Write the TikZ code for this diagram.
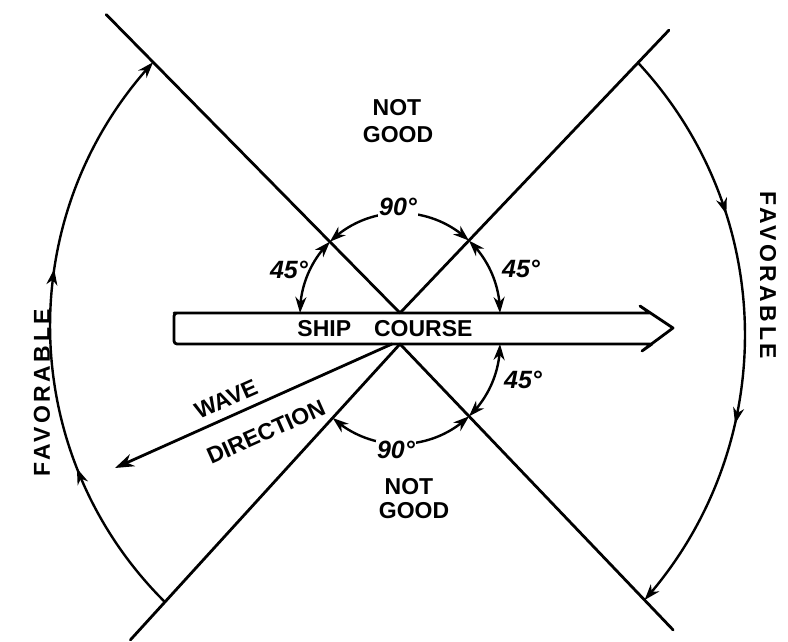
\documentclass[tikz,border=0pt]{standalone}
\usepackage{fontspec}
\setmainfont{Liberation Sans}
\newfontfamily\spacedfont[LetterSpace=15]{Liberation Sans}
\usetikzlibrary{arrows.meta,decorations.markings,bending,calc}
\begin{document}
\begin{tikzpicture}[x=1pt,y=1pt,line join=round,line cap=round,
  >={Stealth[length=16pt,width=11pt,inset=5pt]},
  ln/.style={line width=2.8pt},
  arcline/.style={line width=2.4pt},
  txt/.style={font=\fontsize{23}{26}\selectfont\bfseries,inner sep=0pt},
  degtxt/.style={font=\fontsize{25}{28}\selectfont\bfseries\itshape,inner sep=1pt},
  favtxt/.style={font=\fontsize{23}{26}\selectfont\spacedfont\bfseries,inner sep=1pt},
  midarrows/.style 2 args={postaction={decorate},decoration={markings,
     mark=at position #1 with {\arrow{>}},mark=at position #2 with {\arrow{>}}}}]
\useasboundingbox (0,0) rectangle (788,641);
% key points
\coordinate (V1) at (400,328);
\coordinate (V2) at (400,297);
\coordinate (CL) at (439,315);
\coordinate (CR) at (345,306);
\coordinate (ALt) at ($(CL)+(137.3:389)$);
\coordinate (ALb) at ($(CL)+(225.2:389)$);
\coordinate (ARt) at ($(CR)+(42.9:400)$);
\coordinate (ARb) at ($(CR)+(-41.5:400)$);
\coordinate (ULe) at ($(V1)!1.19!(ALt)$);
\coordinate (URe) at ($(V1)!1.13!(ARt)$);
\coordinate (LLe) at ($(V2)!1.147!(ALb)$);
\coordinate (LRe) at ($(V2)!1.117!(ARb)$);
% the X lines
\draw[ln] (V1) -- (ULe);
\draw[ln] (V1) -- (URe);
\draw[ln] (V2) -- (LLe);
\draw[ln] (V2) -- (LRe);
% ship course arrow
\draw[ln] (177,328) -- (650,328) -- (640,335) -- (673,313) -- (642,290) -- (652,297)
  -- (177,297) [rounded corners=3pt] -- (174,297) -- (174,328) -- cycle;
\node[txt] (ship) at (385,312) {SHIP\hspace{1em}COURSE};
% inner arcs
\draw[arcline,<->] ($(V1)+(180:100)$) arc[start angle=180,end angle=134.5,radius=100];
\draw[arcline,<->] ($(V1)+(0:100)$) arc[start angle=0,end angle=46.4,radius=100];
\draw[arcline,<->] ($(V1)+(134.5:100)$) arc[start angle=134.5,end angle=46.4,radius=100];
\draw[arcline,<->] ($(V2)+(0:100)$) arc[start angle=360,end angle=313.7,radius=100];
\draw[arcline,<->] ($(V2)+(227.7:100)$) arc[start angle=227.7,end angle=313.7,radius=100];
% outer arcs
\draw[arcline,->,midarrows={0.27}{0.61}] (ALb) arc[start angle=225.2,end angle=137.3,radius=389];
\draw[arcline,->,midarrows={0.3}{0.66}] (ARt) arc[start angle=42.9,end angle=-41.5,radius=400];
% wave direction
\coordinate (W0) at (392,297);
\coordinate (W1) at (115,173);
\draw[ln,-{Stealth[length=19pt,width=13pt,inset=6pt]}] (W0) -- (W1);
\node[txt,rotate=24] (wave) at (226,242) {WAVE};
\node[txt,rotate=24] (dir) at (266,209) {DIRECTION};
% angle labels
\node[degtxt,fill=white] (d90u) at (398,434) {90°};
\node[degtxt,fill=white] (d90l) at (396,191) {90°};
\node[degtxt] (d45ul) at (289,371) {45°};
\node[degtxt] (d45ur) at (521,372) {45°};
\node[degtxt] (d45lr) at (523,261) {45°};
% region labels
\node[txt] (ng1) at (397,533) {NOT};
\node[txt] (ng2) at (398,506) {GOOD};
\node[txt] (ng3) at (409,154) {NOT};
\node[txt] (ng4) at (414,130) {GOOD};
\node[favtxt,rotate=90] (favl) at (42,248) {FAVORABLE};
\node[favtxt,rotate=-90] (favr) at (768,366) {FAVORABLE};
\end{tikzpicture}
\end{document}
